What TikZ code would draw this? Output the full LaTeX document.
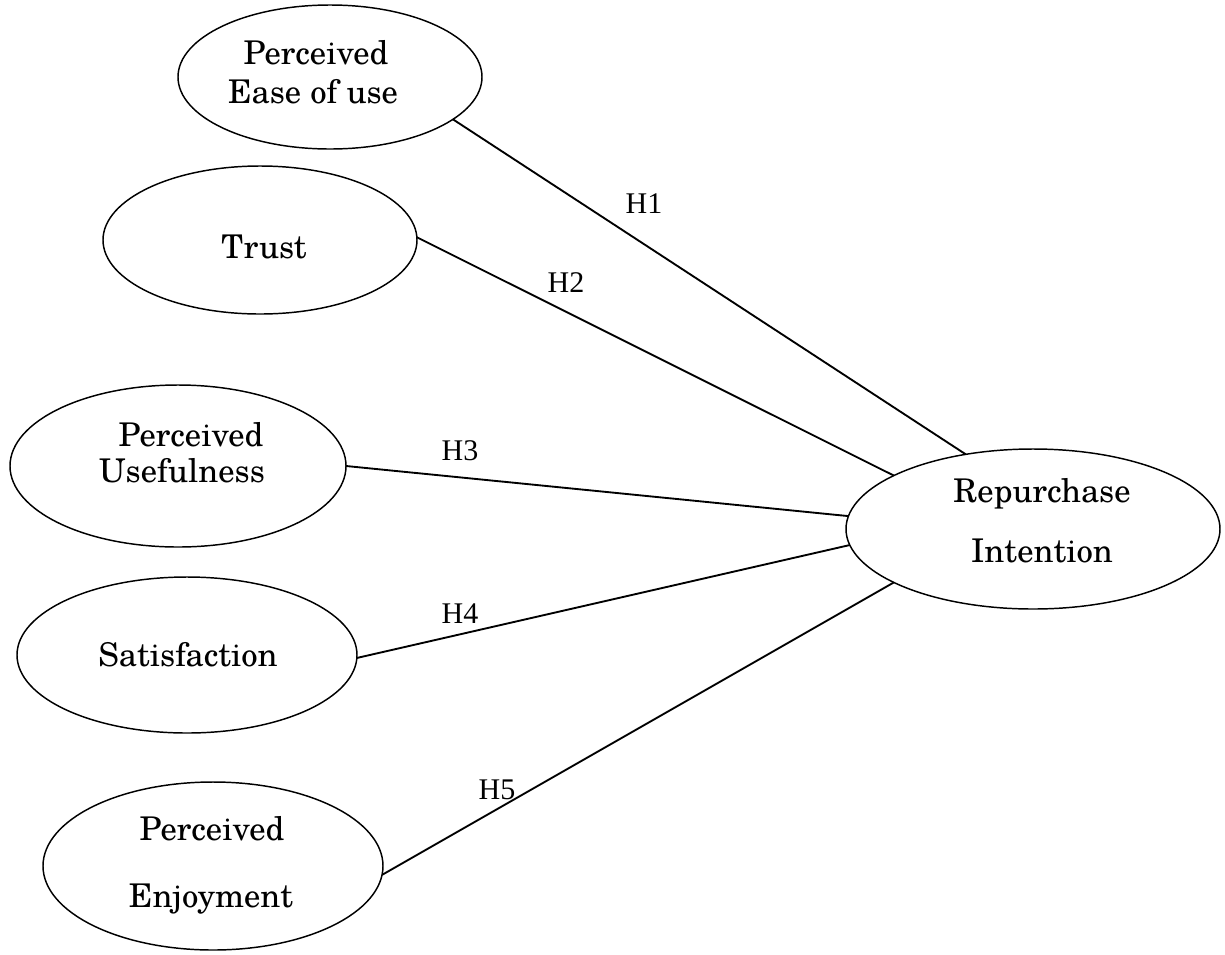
\documentclass[tikz,border=0pt]{standalone}
\usepackage{fontspec}
\setmainfont{TeX Gyre Schola}
\newfontfamily\labfont{Liberation Serif}
\usetikzlibrary{shapes.geometric}
\begin{document}
\begin{tikzpicture}[x=0.75pt,y=-0.75pt,
  construct/.style={ellipse,draw,line width=1.1pt,inner sep=0pt,outer sep=0pt},
  ctext/.style={anchor=base,inner sep=0pt,font=\fontsize{24.5}{29}\selectfont},
  hyp/.style={line width=1.4pt},
  hlab/.style={anchor=base,inner sep=0pt,font=\labfont\fontsize{22.5}{27}\selectfont}]
\useasboundingbox (0,0) rectangle (1225,954);
% constructs
\node[construct,minimum width=228pt,minimum height=108pt] (e1) at (330,77) {};
\node[construct,minimum width=235.5pt,minimum height=111pt] (e2) at (260,240) {};
\node[construct,minimum width=252pt,minimum height=121.5pt] (e3) at (178,466) {};
\node[construct,minimum width=255pt,minimum height=117pt] (e4) at (187,655) {};
\node[construct,minimum width=255pt,minimum height=126pt] (e5) at (213,866) {};
\node[construct,minimum width=280.5pt,minimum height=120pt] (e6) at (1033,529) {};
% texts
\node[ctext] (t1a) at (316,64) {Perceived};
\node[ctext] (t1b) at (313,103) {Ease of use};
\node[ctext] (t2) at (264,258) {Trust};
\node[ctext] (t3a) at (191,446) {Perceived};
\node[ctext] (t3b) at (182,482) {Usefulness};
\node[ctext] (t4) at (188,666) {Satisfaction};
\node[ctext] (t5a) at (212,840) {Perceived};
\node[ctext] (t5b) at (211,907) {Enjoyment};
\node[ctext] (t6a) at (1042,502) {Repurchase};
\node[ctext] (t6b) at (1042,562) {Intention};
% hypotheses
\draw[hyp] (e1.-19) -- (e6.132.6);
\draw[hyp] (e2.1) -- (e6.159);
\draw[hyp] (e3.0.3) -- (e6.176.6);
\draw[hyp] (e4.-1.3) -- (e6.185.6);
\draw[hyp] (e5.-3) -- (e6.201.3);
\node[hlab] (h1) at (644,213) {H1};
\node[hlab] (h2) at (566,292) {H2};
\node[hlab] (h3) at (460,460) {H3};
\node[hlab] (h4) at (460,623) {H4};
\node[hlab] (h5) at (497,799) {H5};
\end{tikzpicture}
\end{document}
